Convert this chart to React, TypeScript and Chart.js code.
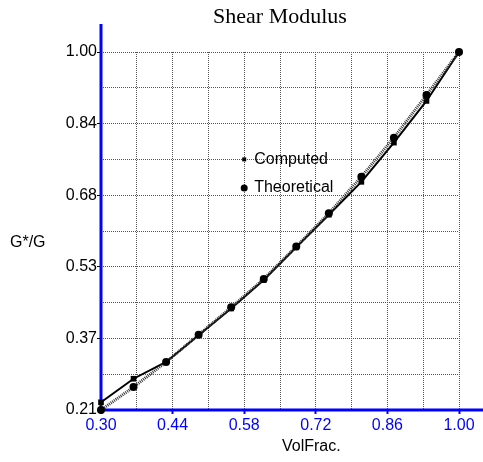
import React, { useEffect, useRef } from "react";
import { Chart, registerables } from "chart.js";

Chart.register(...registerables);

const chartTitle = "Shear Modulus";
const xTitle = "VolFrac.";
const yTitle = "G*/G";
const seriesNames = ["Computed", "Theoretical"];

const volFrac = [0.3, 0.3636, 0.4273, 0.4909, 0.5545, 0.6182, 0.6818, 0.7455, 0.8091, 0.8727, 0.9364, 1.0];
const computed = [0.227, 0.279, 0.316, 0.375, 0.434, 0.497, 0.569, 0.641, 0.7135, 0.8, 0.892, 1.0];
const theoretical = [0.21, 0.2605, 0.316, 0.376, 0.4365, 0.499, 0.571, 0.644, 0.7245, 0.811, 0.905, 1.0];

const xGrid = [0.3, 0.37, 0.44, 0.51, 0.58, 0.65, 0.72, 0.79, 0.86, 0.93, 1.0];
const xTickLabels = ["0.30", "", "0.44", "", "0.58", "", "0.72", "", "0.86", "", "1.00"];
const yGrid = [0.21, 0.289, 0.368, 0.447, 0.526, 0.605, 0.684, 0.763, 0.842, 0.921, 1.0];
const yTickLabels = ["0.21", "", "0.37", "", "0.53", "", "0.68", "", "0.84", "", "1.00"];

const legendAnchor = { x: 0.58, y: [0.763, 0.7] };

const BLUE = "#0000ff";
const GRID = "#555";
const SANS = "'Liberation Sans', Arial, sans-serif";

const decorPlugin = {
  id: "decor",
  beforeDatasetsDraw(chart: any) {
    const { ctx, chartArea } = chart;
    ctx.save();
    ctx.strokeStyle = BLUE;
    ctx.lineWidth = 3;
    ctx.beginPath();
    ctx.moveTo(chartArea.left, chartArea.bottom);
    ctx.lineTo(chart.width, chartArea.bottom);
    ctx.moveTo(chartArea.left, chartArea.bottom);
    ctx.lineTo(chartArea.left, 24);
    ctx.stroke();
    ctx.restore();
  },
  afterDraw(chart: any) {
    const { ctx, chartArea, scales } = chart;
    ctx.save();
    ctx.fillStyle = "#000";
    ctx.textBaseline = "middle";
    ctx.font = "22px 'Liberation Serif', 'Times New Roman', serif";
    ctx.textAlign = "center";
    ctx.fillText(chartTitle, (chartArea.left + chartArea.right) / 2, 17);
    ctx.font = "16px " + SANS;
    ctx.textAlign = "left";
    ctx.fillText(yTitle, 10, 243);
    ctx.fillText(xTitle, 282, 447);
    // legend
    const lx = scales.x.getPixelForValue(legendAnchor.x);
    const y1 = scales.y.getPixelForValue(legendAnchor.y[0]);
    const y2 = scales.y.getPixelForValue(legendAnchor.y[1]);
    ctx.fillRect(lx - 2, y1 - 2, 4, 4);
    ctx.beginPath();
    ctx.arc(lx, y2, 3.5, 0, Math.PI * 2);
    ctx.fill();
    ctx.fillText(seriesNames[0], lx + 10, y1);
    ctx.fillText(seriesNames[1], lx + 10, y2);
    ctx.restore();
  },
};

export default function App() {
  const ref = useRef<HTMLCanvasElement>(null);
  useEffect(() => {
    if (!ref.current) return;
    const chart = new Chart(ref.current, {
      type: "scatter",
      data: {
        datasets: [
          {
            label: seriesNames[1],
            data: volFrac.map((x, i) => ({ x, y: theoretical[i] })),
            showLine: true,
            borderColor: "#333",
            borderWidth: 3,
            borderDash: [1, 1],
            pointStyle: "circle",
            pointRadius: 4,
            pointBackgroundColor: "#000",
            pointBorderWidth: 0,
            clip: false as any,
          },
          {
            label: seriesNames[0],
            data: volFrac.map((x, i) => ({ x, y: computed[i] })),
            showLine: true,
            borderColor: "#000",
            borderWidth: 2,
            pointStyle: "rect",
            pointRadius: 4,
            pointBackgroundColor: "#000",
            pointBorderWidth: 0,
            clip: false as any,
          },
        ],
      },
      options: {
        animation: false,
        responsive: false,
        events: [],
        layout: { padding: { top: 52, right: 24, left: 0, bottom: 0 } },
        plugins: { legend: { display: false }, title: { display: false }, tooltip: { enabled: false } },
        scales: {
          x: {
            type: "linear",
            min: 0.3,
            max: 1.0,
            afterBuildTicks: (s: any) => {
              s.ticks = xGrid.map((v) => ({ value: v }));
            },
            afterFit: (s: any) => {
              s.height = 52;
            },
            ticks: {
              autoSkip: false,
              maxRotation: 0,
              color: BLUE,
              padding: 2,
              font: { family: SANS, size: 16 },
              callback: (_v: any, i: number) => xTickLabels[i],
            },
            grid: {
              color: (c: any) => (c.index === 0 ? "rgba(0,0,0,0)" : GRID),
              tickColor: (c: any) => (c.index % 2 === 0 ? BLUE : "rgba(0,0,0,0)"),
              tickLength: 4,
              tickWidth: 2,
              lineWidth: 1,
            },
            border: { display: false, dash: [1, 1] },
          },
          y: {
            type: "linear",
            min: 0.21,
            max: 1.0,
            afterBuildTicks: (s: any) => {
              s.ticks = yGrid.map((v) => ({ value: v }));
            },
            afterFit: (s: any) => {
              s.width = 101;
            },
            ticks: {
              autoSkip: false,
              color: "#000",
              padding: 0,
              font: { family: SANS, size: 16 },
              callback: (_v: any, i: number) => yTickLabels[i],
            },
            grid: {
              color: (c: any) => (c.index === 0 ? "rgba(0,0,0,0)" : GRID),
              tickColor: (c: any) => (c.index % 2 === 0 ? "#000" : "rgba(0,0,0,0)"),
              tickLength: 4,
              lineWidth: 1,
            },
            border: { display: false, dash: [1, 1] },
          },
        },
      },
      plugins: [decorPlugin],
    });
    return () => chart.destroy();
  }, []);
  return (
    <div style={{ position: "fixed", left: 0, top: 0, width: 483, height: 462, background: "#fff" }}>
      <canvas ref={ref} width={483} height={462} style={{ display: "block" }} />
    </div>
  );
}
